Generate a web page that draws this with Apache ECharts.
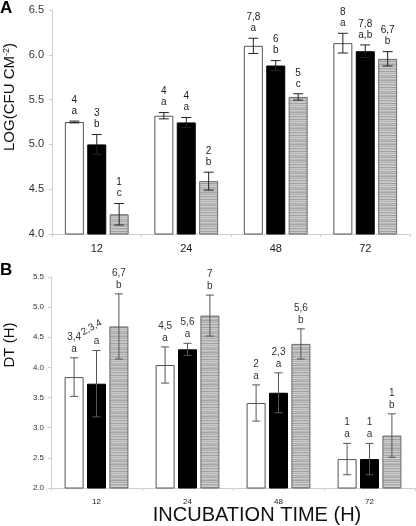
<!DOCTYPE html>
<html><head><meta charset="utf-8">
<script src="https://cdn.jsdelivr.net/npm/echarts@6/dist/echarts.min.js"></script>
<style>html,body{margin:0;padding:0;background:#fff}#c{width:416px;height:526px}</style>
</head><body><div id="c"></div>
<script>
// ---------- data ----------
const categories = ['12', '24', '48', '72'];

// Panel A: LOG(CFU CM-2)
const aYTicks = [4.0, 4.5, 5.0, 5.5, 6.0, 6.5];
const aWhite = [5.25, 5.32, 6.10, 6.13];
const aBlack = [5.00, 5.245, 5.88, 6.04];
const aGray  = [4.22, 4.59, 5.53, 5.955];
const aWhiteErr = [0.01, 0.035, 0.085, 0.11];
const aBlackErr = [0.11, 0.055, 0.055, 0.07];
const aGrayErr  = [0.12, 0.10, 0.035, 0.08];
const aWhiteLbl = [['4', 'a'], ['4', 'a'], ['7,8', 'a'], ['8', 'a']];
const aBlackLbl = [['3', 'b'], ['4', 'a'], ['6', 'b'], ['7,8', 'a,b']];
const aGrayLbl  = [['1', 'c'], ['2', 'b'], ['5', 'c'], ['6,7', 'b']];

// Panel B: DT (H)
const bYTicks = [2.0, 2.5, 3.0, 3.5, 4.0, 4.5, 5.0, 5.5];
const bWhite = [3.84, 4.04, 3.41, 2.48];
const bBlack = [3.73, 4.30, 3.58, 2.48];
const bGray  = [4.68, 4.86, 4.39, 2.87];
const bWhiteErr = [0.32, 0.30, 0.30, 0.26];
const bBlackErr = [0.55, 0.10, 0.33, 0.26];
const bGrayErr  = [0.54, 0.34, 0.25, 0.36];
const bWhiteLbl = [['3,4', 'a'], ['4,5', 'a'], ['2', 'a'], ['1', 'a']];
const bBlackLbl = [['2,3,4', 'a'], ['5,6', 'a'], ['2,3', 'a'], ['1', 'a']];
const bGrayLbl  = [['6,7', 'b'], ['7', 'b'], ['5,6', 'b'], ['1', 'b']];

// ---------- styles ----------
const FONT = 'Liberation Sans, Arial, sans-serif';
const BAR_W = 19;
const GAP = 3.4;

// striped gray pattern
const pc = document.createElement('canvas');
pc.width = 8; pc.height = 16;
const pctx = pc.getContext('2d');
const stripeCols = ['#a2a2a2', '#c4c4c4', '#adadad', '#d0d0d0', '#a6a6a6', '#bdbdbd', '#cccccc', '#a0a0a0',
                    '#c8c8c8', '#b2b2b2', '#d4d4d4', '#a9a9a9', '#c0c0c0', '#a5a5a5', '#cfcfcf', '#b6b6b6'];
stripeCols.forEach((c, i) => { pctx.fillStyle = c; pctx.fillRect(0, i, 8, 1); });
const grayPattern = { image: pc, repeat: 'repeat' };

const barStyles = [
  { color: '#ffffff', borderColor: '#555555', borderWidth: 1 },
  { color: '#000000', borderColor: '#000000', borderWidth: 1 },
  { color: grayPattern, borderColor: '#6a6a6a', borderWidth: 1 }
];

function barSeries(gi, vals, si) {
  return {
    type: 'bar', xAxisIndex: gi, yAxisIndex: gi, data: vals,
    barWidth: BAR_W, barGap: (GAP / BAR_W * 100) + '%',
    itemStyle: barStyles[si], silent: true, animation: false
  };
}

function errSeries(gi, vals, errs, lbls, si, opt) {
  return {
    type: 'custom', xAxisIndex: gi, yAxisIndex: gi, z: 10, silent: true, animation: false,
    data: vals.map((v, i) => [i, v, errs[i]]),
    renderItem(params, api) {
      const i = api.value(0), v = api.value(1), e = api.value(2);
      const off = (si - 1) * (BAR_W + GAP);
      const pt = api.coord([i, v + e]);
      const pb = api.coord([i, v - e]);
      const x = pt[0] + off;
      const cw = opt.cap / 2;
      const ls = { stroke: opt.errColor, lineWidth: 1 };
      const lb = lbls[i];
      const children = [
        { type: 'line', shape: { x1: x, y1: pt[1], x2: x, y2: pb[1] }, style: ls },
        { type: 'line', shape: { x1: x - cw, y1: pt[1], x2: x + cw, y2: pt[1] }, style: ls },
        { type: 'line', shape: { x1: x - cw, y1: pb[1], x2: x + cw, y2: pb[1] }, style: ls },
        { type: 'text', x: x, y: pt[1] - opt.d1,
          style: { text: lb[1], font: opt.font, fill: opt.txtColor, align: 'center', verticalAlign: 'middle' } }
      ];
      if (lb[0].length > 3) {
        children.push({ type: 'text', x: x - 5, y: pt[1] - opt.d1 - opt.d2 - 2, rotation: Math.PI / 6,
          style: { text: lb[0], font: opt.font, fill: opt.txtColor, align: 'center', verticalAlign: 'middle' } });
      } else {
        children.push({ type: 'text', x: x, y: pt[1] - opt.d1 - opt.d2,
          style: { text: lb[0], font: opt.font, fill: opt.txtColor, align: 'center', verticalAlign: 'middle' } });
      }
      return { type: 'group', children };
    }
  };
}

function xAxisCfg(gi, fs, margin) {
  return {
    type: 'category', gridIndex: gi, data: categories,
    axisLine: { lineStyle: { color: '#cfcfcf', width: 1 } },
    axisTick: { show: true, length: 3, lineStyle: { color: '#cfcfcf' } },
    axisLabel: { fontSize: fs, color: '#222', fontFamily: FONT, margin: margin }
  };
}
function yAxisCfg(gi, ticks, fs, margin) {
  return {
    type: 'value', gridIndex: gi,
    min: ticks[0], max: ticks[ticks.length - 1], interval: ticks[1] - ticks[0],
    axisLine: { show: true, lineStyle: { color: '#cfcfcf', width: 1 } },
    axisTick: { show: true, length: 3, lineStyle: { color: '#cfcfcf' } },
    splitLine: { show: false },
    axisLabel: { fontSize: fs, color: '#333', fontFamily: FONT, margin: margin,
      formatter: v => v.toFixed(1) }
  };
}

const optA = { cap: 10, errColor: '#222', txtColor: '#222', font: '10px ' + FONT, d1: 10, d2: 11 };
const optB = { cap: 8, errColor: '#555', txtColor: '#333', font: '10px ' + FONT, d1: 9, d2: 12 };

const chart = echarts.init(document.getElementById('c'), null, { renderer: 'canvas' });
chart.setOption({
  animation: false,
  backgroundColor: '#fff',
  grid: [
    { left: 52, right: 6, top: 10, height: 224 },
    { left: 51, right: 1, top: 277, height: 211 }
  ],
  xAxis: [xAxisCfg(0, 11, 9), xAxisCfg(1, 8, 10)],
  yAxis: [yAxisCfg(0, aYTicks, 11, 8), yAxisCfg(1, bYTicks, 8, 7)],
  series: [
    barSeries(0, aWhite, 0), barSeries(0, aBlack, 1), barSeries(0, aGray, 2),
    barSeries(1, bWhite, 0), barSeries(1, bBlack, 1), barSeries(1, bGray, 2),
    errSeries(0, aWhite, aWhiteErr, aWhiteLbl, 0, optA),
    errSeries(0, aBlack, aBlackErr, aBlackLbl, 1, optA),
    errSeries(0, aGray, aGrayErr, aGrayLbl, 2, optA),
    errSeries(1, bWhite, bWhiteErr, bWhiteLbl, 0, optB),
    errSeries(1, bBlack, bBlackErr, bBlackLbl, 1, optB),
    errSeries(1, bGray, bGrayErr, bGrayLbl, 2, optB)
  ],
  graphic: [
    { type: 'text', left: 0, top: 0, style: { text: 'A', font: 'bold 17px ' + FONT, fill: '#000' } },
    { type: 'text', left: 0, top: 262, style: { text: 'B', font: 'bold 17px ' + FONT, fill: '#000' } },
    { type: 'text', x: 10, y: 97, rotation: Math.PI / 2,
      style: { text: 'LOG(CFU CM{sup|-2})', font: '15px ' + FONT, fill: '#111', align: 'center', verticalAlign: 'middle',
        rich: { sup: { fontSize: 9, fontFamily: FONT, verticalAlign: 'top', padding: [0, 0, 6, 0] } } } },
    { type: 'text', x: 10, y: 345, rotation: Math.PI / 2,
      style: { text: 'DT (H)', font: '15px ' + FONT, fill: '#111', align: 'center', verticalAlign: 'middle' } },
    { type: 'text', x: 257, y: 515,
      style: { text: 'INCUBATION TIME (H)', font: '20px ' + FONT, fill: '#111', align: 'center', verticalAlign: 'middle' } }
  ]
});
</script></body></html>
